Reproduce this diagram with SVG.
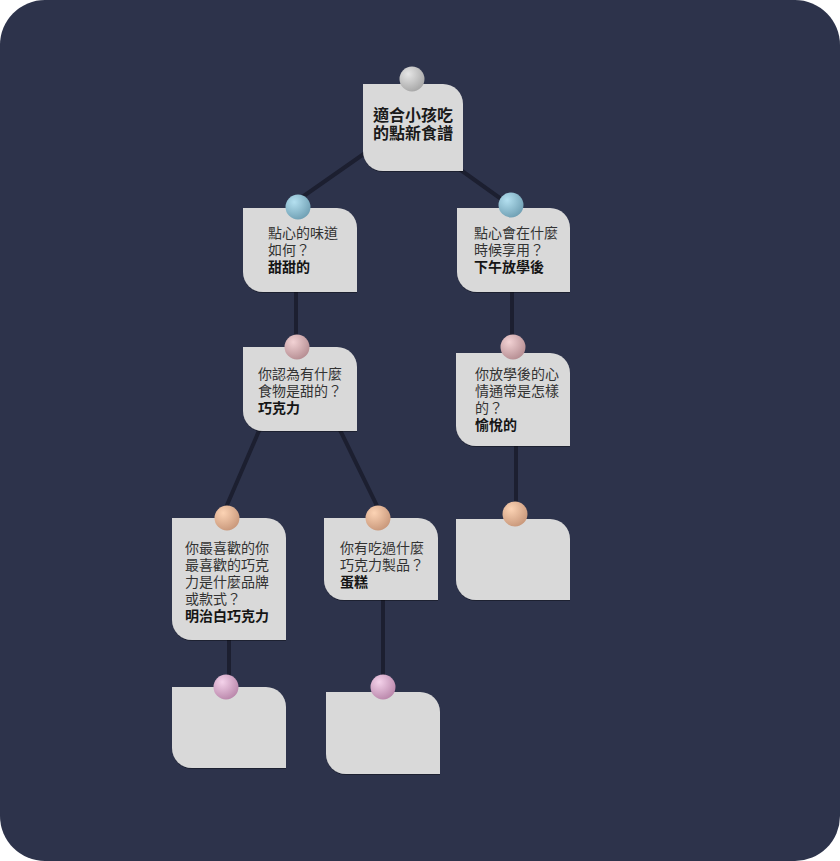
<svg xmlns="http://www.w3.org/2000/svg" width="840" height="861" viewBox="0 0 840 861">
<defs>
<radialGradient id="gGray" cx="0.35" cy="0.3" r="0.75"><stop offset="0" stop-color="#e6e6e6"/><stop offset="1" stop-color="#a6a6a6"/></radialGradient>
<radialGradient id="gBlue" cx="0.35" cy="0.3" r="0.75"><stop offset="0" stop-color="#b4e0f0"/><stop offset="1" stop-color="#6f9fb3"/></radialGradient>
<radialGradient id="gPink" cx="0.35" cy="0.3" r="0.75"><stop offset="0" stop-color="#f2d2d4"/><stop offset="1" stop-color="#b58d92"/></radialGradient>
<radialGradient id="gPeach" cx="0.35" cy="0.3" r="0.75"><stop offset="0" stop-color="#fcd3b4"/><stop offset="1" stop-color="#c8977a"/></radialGradient>
<radialGradient id="gLav" cx="0.35" cy="0.3" r="0.75"><stop offset="0" stop-color="#f4d2ea"/><stop offset="1" stop-color="#b986aa"/></radialGradient>
<filter id="sh" x="-10%" y="-10%" width="120%" height="125%"><feDropShadow dx="0" dy="1" stdDeviation="0.6" flood-color="#000" flood-opacity="0.35"/></filter>
</defs>
<style>
.card{fill:#d9d9d9;filter:url(#sh)}
.conn line{stroke:#1c1f30;stroke-width:4;stroke-linecap:round}
.t{font-family:"Liberation Sans","Noto Sans CJK TC",sans-serif;font-size:14px;fill:#333}
.b{font-weight:bold;fill:#151515}
.root{font-family:"Liberation Sans","Noto Sans CJK TC",sans-serif;font-size:16px;font-weight:bold;fill:#1a1a1a}
</style>
<rect x="0" y="0" width="840" height="861" rx="45" ry="45" fill="#2d334b"/>
<g id="connectors" class="conn">
<line x1="398" y1="130" x2="298" y2="200"/>
<line x1="430" y1="148" x2="511" y2="206"/>
<line x1="296" y1="280" x2="296" y2="345"/>
<line x1="512" y1="280" x2="512" y2="347"/>
<line x1="277" y1="389" x2="224" y2="512"/>
<line x1="320" y1="389" x2="380" y2="512"/>
<line x1="516" y1="430" x2="516" y2="514"/>
<line x1="229" y1="630" x2="229" y2="687"/>
<line x1="383" y1="590" x2="383" y2="687"/>
</g>
<g id="n-root">
<path class="card" d="M363,84 H443 A20,20 0 0 1 463,104 V171 H383 A20,20 0 0 1 363,151 Z"/>
<circle cx="412" cy="79" r="12.5" fill="url(#gGray)"/>
<text class="root"><tspan x="373" y="121">適合小孩吃</tspan><tspan x="373" y="139">的點新食譜</tspan></text>
</g>
<g id="n-taste">
<path class="card" d="M243,208 H337 A20,20 0 0 1 357,228 V292 H263 A20,20 0 0 1 243,272 Z"/>
<circle cx="298" cy="207" r="12.5" fill="url(#gBlue)"/>
<text class="t"><tspan x="268" y="238">點心的味道</tspan><tspan x="268" y="255">如何？</tspan><tspan class="b" x="268" y="272">甜甜的</tspan></text>
</g>
<g id="n-when">
<path class="card" d="M457,208 H550 A20,20 0 0 1 570,228 V292 H477 A20,20 0 0 1 457,272 Z"/>
<circle cx="511" cy="205" r="12.5" fill="url(#gBlue)"/>
<text class="t"><tspan x="474" y="238">點心會在什麼</tspan><tspan x="474" y="255">時候享用？</tspan><tspan class="b" x="474" y="272">下午放學後</tspan></text>
</g>
<g id="n-sweet">
<path class="card" d="M243,347 H337 A20,20 0 0 1 357,367 V431 H263 A20,20 0 0 1 243,411 Z"/>
<circle cx="297" cy="347" r="12.5" fill="url(#gPink)"/>
<text class="t"><tspan x="258" y="379">你認為有什麼</tspan><tspan x="258" y="396">食物是甜的？</tspan><tspan class="b" x="258" y="413">巧克力</tspan></text>
</g>
<g id="n-mood">
<path class="card" d="M456,353 H550 A20,20 0 0 1 570,373 V446 H476 A20,20 0 0 1 456,426 Z"/>
<circle cx="513" cy="347" r="12.5" fill="url(#gPink)"/>
<text class="t"><tspan x="475" y="379">你放學後的心</tspan><tspan x="475" y="396">情通常是怎樣</tspan><tspan x="475" y="413">的？</tspan><tspan class="b" x="475" y="430">愉悅的</tspan></text>
</g>
<g id="n-empty-right">
<path class="card" d="M456,519 H550 A20,20 0 0 1 570,539 V600 H476 A20,20 0 0 1 456,580 Z"/>
<circle cx="515" cy="514" r="12.5" fill="url(#gPeach)"/>
</g>
<g id="n-brand">
<path class="card" d="M172,518 H266 A20,20 0 0 1 286,538 V640 H192 A20,20 0 0 1 172,620 Z"/>
<circle cx="227" cy="518" r="12.5" fill="url(#gPeach)"/>
<text class="t"><tspan x="185" y="553">你最喜歡的你</tspan><tspan x="185" y="570">最喜歡的巧克</tspan><tspan x="185" y="587">力是什麼品牌</tspan><tspan x="185" y="604">或款式？</tspan><tspan class="b" x="185" y="621">明治白巧克力</tspan></text>
</g>
<g id="n-product">
<path class="card" d="M324,518 H418 A20,20 0 0 1 438,538 V600 H344 A20,20 0 0 1 324,580 Z"/>
<circle cx="378" cy="518" r="12.5" fill="url(#gPeach)"/>
<text class="t"><tspan x="340" y="553">你有吃過什麼</tspan><tspan x="340" y="570">巧克力製品？</tspan><tspan class="b" x="340" y="587">蛋糕</tspan></text>
</g>
<g id="n-empty-left">
<path class="card" d="M172,687 H266 A20,20 0 0 1 286,707 V768 H192 A20,20 0 0 1 172,748 Z"/>
<circle cx="226" cy="687" r="12.5" fill="url(#gLav)"/>
</g>
<g id="n-empty-mid">
<path class="card" d="M326,692 H420 A20,20 0 0 1 440,712 V774 H346 A20,20 0 0 1 326,754 Z"/>
<circle cx="383" cy="687" r="12.5" fill="url(#gLav)"/>
</g>
</svg>
